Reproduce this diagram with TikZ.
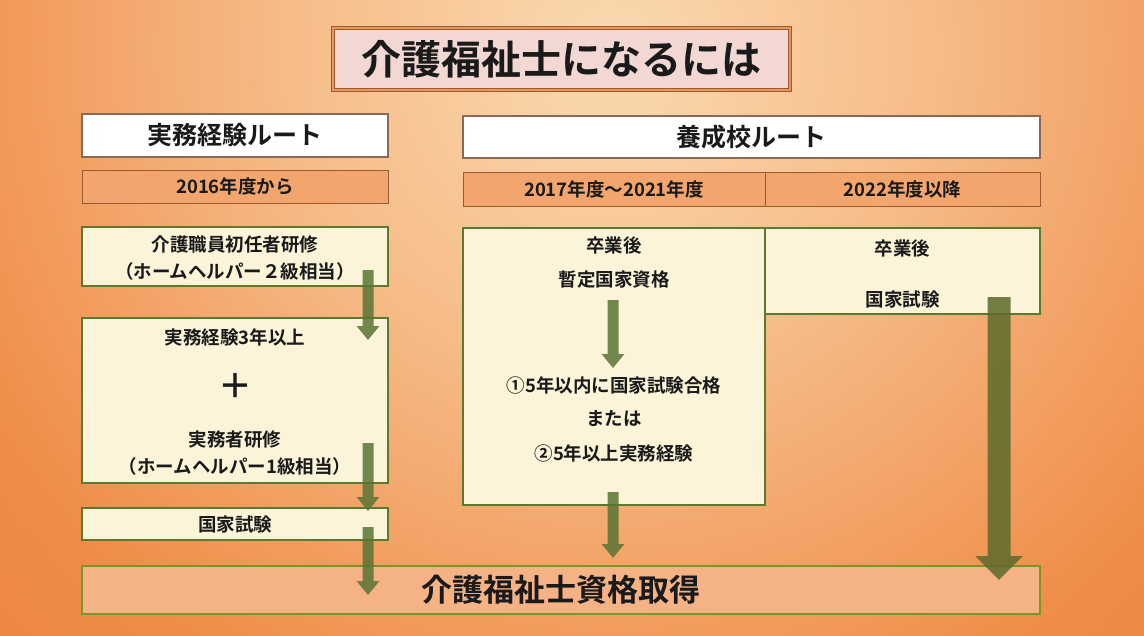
\documentclass[tikz,border=0pt]{standalone}
\usepackage{fontspec}
\setmainfont{Noto Sans CJK JP}[BoldFont={Noto Sans CJK JP Bold}]
\usetikzlibrary{arrows.meta}
\definecolor{bgin}{HTML}{FAD9B2}
\definecolor{bgmid}{HTML}{F6BC88}
\definecolor{bgout}{HTML}{EF8C48}
\definecolor{bgfar}{HTML}{EC8038}
\pgfdeclareradialshading{bgshade}{\pgfpoint{0bp}{0bp}}{color(0bp)=(bgin); color(8bp)=(bgmid); color(18bp)=(bgout); color(25bp)=(bgfar); color(50bp)=(bgfar)}
\definecolor{titlefill}{HTML}{F2D7D3}
\definecolor{titleline}{HTML}{A2582A}
\definecolor{titleband}{HTML}{E39A62}
\definecolor{hdrline}{HTML}{8A6A55}
\definecolor{yearfill}{HTML}{F2A56C}
\definecolor{yearline}{HTML}{9A5B30}
\definecolor{cream}{HTML}{FCF4D8}
\definecolor{greenline}{HTML}{5B7A2E}
\definecolor{peach}{HTML}{F5B285}
\definecolor{arrowgreen}{HTML}{5A7434}
\definecolor{bigarrow}{HTML}{5C6A2C}
\definecolor{ink}{HTML}{1A1A1A}
\tikzset{
  every node/.style={text=ink, inner sep=0pt},
  titlebox/.style={draw=titleline, double=titleband, double distance=1.6pt, line width=0.8pt, fill=titlefill},
  hdrbox/.style={draw=hdrline, line width=1.4pt, fill=white},
  yearbox/.style={draw=yearline, line width=1pt, fill=yearfill},
  creambox/.style={draw=greenline, line width=1.6pt, fill=cream},
  finalbox/.style={draw=greenline!80!yellow, line width=2pt, fill=peach},
  lbl/.style={font=\bfseries\fontsize{18.5}{22}\selectfont},
  arr/.style={line width=11pt, draw=arrowgreen, -{Triangle[width=22pt,length=14pt]}},
  bigarr/.style={line width=23pt, draw=bigarrow, -{Triangle[width=46pt,length=24pt]}},
}
\begin{document}
\begin{tikzpicture}[x=1pt,y=-1pt]
\useasboundingbox (0,0) rectangle (1144,635);
\begin{scope}
\clip (0,0) rectangle (1144,635);
\fill[bgfar] (0,0) rectangle (1144,635);
\shade[shading=bgshade] (610,50) circle (1000);
\end{scope}

% title
\node[titlebox, minimum width=457pt, minimum height=62pt] (title) at (561.5,59)
  {\bfseries\fontsize{40}{44}\selectfont 介護福祉士になるには};

% headers
\node[hdrbox, minimum width=306pt, minimum height=43pt] (hL) at (235,135.5)
  {\bfseries\fontsize{25}{28}\selectfont 実務経験ルート};
\node[hdrbox, minimum width=577pt, minimum height=42pt] (hR) at (751.5,137)
  {\bfseries\fontsize{25}{28}\selectfont 養成校ルート};

% years
\node[yearbox, minimum width=306pt, minimum height=33pt, lbl] (y16) at (235,186.5) {2016年度から};
\node[yearbox, minimum width=302pt, minimum height=34pt, lbl] (y17) at (614,189) {2017年度～2021年度};
\node[yearbox, minimum width=275pt, minimum height=34pt, lbl] (y22) at (902.5,189) {2022年度以降};

% left column boxes
\node[creambox, minimum width=306pt, minimum height=59pt] (b1) at (235,256.5) {};
\node[lbl] (b1a) at (235,245) {介護職員初任者研修};
\node[lbl] (b1b) at (235,271) {（ホームヘルパー２級相当）};

\node[creambox, minimum width=306pt, minimum height=165pt] (b2) at (235,400.5) {};
\node[lbl] (b2a) at (235,337) {実務経験3年以上};
\node[font=\bfseries\fontsize{34}{34}\selectfont] (b2p) at (235,386) {＋};
\node[lbl] (b2b) at (235,440) {実務者研修};
\node[lbl] (b2c) at (235,466) {（ホームヘルパー1級相当）};

\node[creambox, minimum width=306pt, minimum height=32pt, lbl] (b3) at (235,524) {国家試験};

% middle column
\node[creambox, minimum width=302pt, minimum height=277pt] (m) at (614,366.5) {};
\node[lbl] (m1) at (614,245) {卒業後};
\node[lbl] (m2) at (614,280) {暫定国家資格};
\node[lbl] (m3) at (614,385) {①5年以内に国家試験合格};
\node[lbl] (m4) at (614,419) {または};
\node[lbl] (m5) at (614,453) {②5年以上実務経験};

% right column
\node[creambox, minimum width=275pt, minimum height=86pt] (r) at (902.5,271) {};
\node[lbl] (r1) at (902.5,248) {卒業後};
\node[lbl] (r2) at (902.5,299) {国家試験};

% final
\node[finalbox, minimum width=958pt, minimum height=48pt] (fin) at (561,590)
  {\bfseries\fontsize{31}{34}\selectfont 介護福祉士資格取得};

% arrow anchor points
\coordinate (a1s) at (368,270); \coordinate (a1t) at (368,340);
\coordinate (a2s) at (368,443); \coordinate (a2t) at (368,511);
\coordinate (a3s) at (368,527); \coordinate (a3t) at (368,595);
\coordinate (a4s) at (613,300); \coordinate (a4t) at (613,368);
\coordinate (a5s) at (613,492); \coordinate (a5t) at (613,558);
\coordinate (a6s) at (999,297); \coordinate (a6t) at (999,580);

\begin{scope}[transparency group, opacity=0.85]
\draw[arr] (a1s) -- (a1t);
\draw[arr] (a2s) -- (a2t);
\draw[arr] (a3s) -- (a3t);
\draw[arr] (a4s) -- (a4t);
\draw[arr] (a5s) -- (a5t);
\draw[bigarr] (a6s) -- (a6t);
\end{scope}
\end{tikzpicture}
\end{document}
